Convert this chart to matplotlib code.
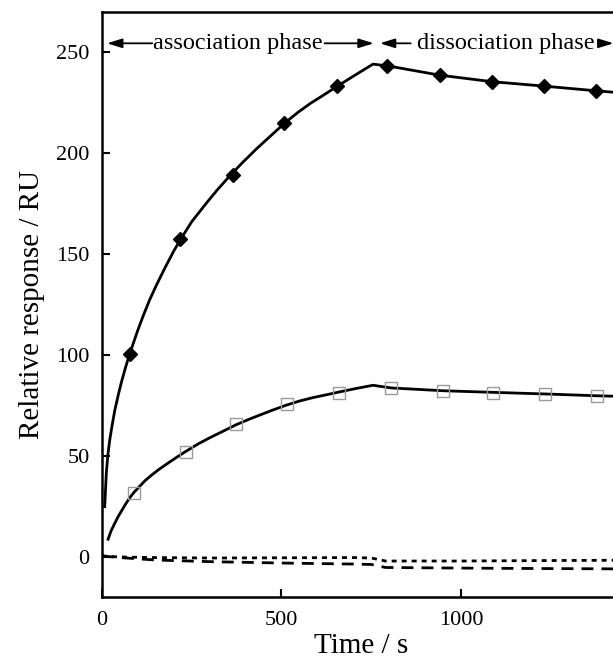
import matplotlib
matplotlib.use("Agg")
import matplotlib.pyplot as plt

# ---- data ----
# fitted curve, high-response analyte (solid line)
fit_hi_t = [7.5, 12, 16, 21.5, 28, 35.5, 45, 54, 65, 77, 100, 115, 132, 150, 175, 200, 218, 250,
            290, 320, 355, 390, 430, 470, 507, 545, 580, 620, 655, 700, 755,
            800, 942, 1087, 1232, 1376, 1450]
fit_hi_v = [24.9, 41.4, 50, 57.9, 65, 72.5, 80, 86.5, 93.5, 100.5, 112.4, 119.5, 127, 134, 143, 151.5, 157, 166,
            175, 181.5, 188.5, 195, 202, 208.5, 214.5, 220, 224.5, 229, 233, 238, 244,
            243, 238.5, 235.3, 233.1, 230.8, 229.7]
# measured points, high-response analyte (filled diamonds)
pts_hi_t = [77, 218, 366, 507, 655, 795, 942, 1087, 1232, 1376]
pts_hi_v = [100.5, 157.3, 189, 215, 233, 243, 238.5, 235.3, 233.2, 230.8]

# fitted curve, low-response analyte (solid line)
fit_lo_t = [17, 25, 35, 45, 55, 65, 76, 88, 105, 120, 140, 156, 180, 205, 231, 268, 300, 340, 374,
            410, 440, 475, 514, 550, 590, 625, 661, 710, 755,
            805, 950, 1090, 1235, 1380, 1450]
fit_lo_v = [8.8, 12.8, 16.5, 20, 23, 26, 29, 31.8, 35, 37.8, 40.8, 43, 46, 49, 52, 56, 59, 62.5, 65.5,
            68.2, 70.3, 72.7, 75.2, 77.2, 79, 80.3, 81.7, 83.5, 85,
            83.7, 82.3, 81.5, 80.7, 79.8, 79.5]
# measured points, low-response analyte (open squares)
pts_lo_t = [88, 233, 374, 514, 661, 805, 950, 1090, 1235, 1380]
pts_lo_v = [31.5, 52, 65.7, 75.5, 81.3, 83.7, 82.3, 81.3, 80.5, 79.7]

# control traces
ctrl_t = [0, 50, 150, 300, 500, 700, 750, 790, 1000, 1200, 1450]
ctrl_dot_v = [0.5, 0, -0.3, -0.5, -0.4, -0.3, -0.5, -2.0, -2.0, -1.8, -1.6]
ctrl_dash_v = [0.5, -0.3, -1.5, -2.3, -3.0, -3.5, -3.7, -5.2, -5.5, -5.7, -5.9]

x_ticks = [0, 500, 1000]
y_ticks = [0, 50, 100, 150, 200, 250]
phase_labels = ["association phase", "dissociation phase"]
x_label = "Time / s"
y_label = "Relative response / RU"

# ---- figure ----
plt.rcParams['font.family'] = ['Liberation Serif', 'DejaVu Serif']
fig = plt.figure(figsize=(6.13, 6.59), dpi=100)
ax = fig.add_axes([0.1664, 0.0935, 0.845, 0.8889])

ax.plot(fit_hi_t, fit_hi_v, color='black', lw=2.0, zorder=3)
ax.plot(pts_hi_t, pts_hi_v, ls='none', marker='D', ms=7, color='black', zorder=4)
ax.plot(fit_lo_t, fit_lo_v, color='black', lw=2.0, zorder=3)
ax.plot(pts_lo_t, pts_lo_v, ls='none', marker='s', ms=8, mfc='none', mec='#9a9a9a', mew=1.0, zorder=4)
ax.plot(ctrl_t, ctrl_dot_v, color='black', lw=2.0, dashes=(1.8, 1.8), zorder=2)
ax.plot(ctrl_t, ctrl_dash_v, color='black', lw=2.0, dashes=(4.3, 2.9), zorder=2)

ax.set_xlim(0, 1443)
ax.set_ylim(-20, 270)
ax.set_xticks(x_ticks)
ax.set_yticks(y_ticks)
ax.tick_params(direction='in', length=6, width=1.5, labelsize=16, pad=9)
ax.tick_params(axis='x', pad=10)
for s in ['left', 'bottom', 'top']:
    ax.spines[s].set_linewidth(1.8)
ax.spines['right'].set_visible(False)

ax.set_xlabel(x_label, fontsize=21, labelpad=2)
ax.set_ylabel(y_label, fontsize=21, labelpad=8)

# phase annotations
ya = 254.3
arrow_kw = dict(arrowstyle='-|>,head_length=0.45,head_width=0.14', color='black', lw=1.3,
                shrinkA=0, shrinkB=0, mutation_scale=20)
ax.text(379, ya, phase_labels[0], fontsize=17.5, ha='center', va='center')
ax.annotate('', xy=(14, ya), xytext=(140, ya), arrowprops=arrow_kw)
ax.annotate('', xy=(757, ya), xytext=(620, ya), arrowprops=arrow_kw)
ax.text(1126, ya, phase_labels[1], fontsize=17.5, ha='center', va='center')
ax.annotate('', xy=(774, ya), xytext=(860, ya), arrowprops=arrow_kw)
ax.annotate('', xy=(1425, ya), xytext=(1382, ya), arrowprops=arrow_kw)

fig.savefig('out.png', dpi=100)
